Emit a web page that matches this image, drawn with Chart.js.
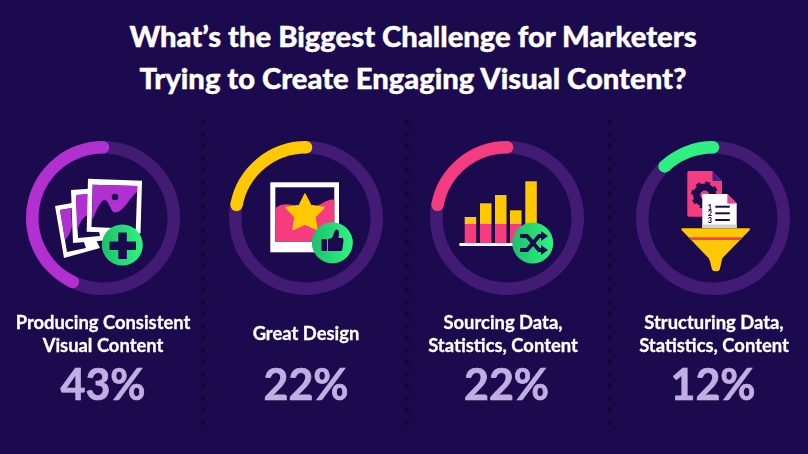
<!DOCTYPE html>
<html>
<head>
<meta charset="utf-8">
<title>Biggest Challenge for Marketers</title>
<script src="https://cdn.jsdelivr.net/npm/chart.js@4"></script>
<style>
  html, body { margin: 0; padding: 0; background: #1c0a4e; }
  #page { position: relative; width: 808px; height: 454px; overflow: hidden; background: #1c0a4e; font-family: Lato, sans-serif; }
  h1 { position: absolute; left: 0; top: 15px; width: 826px; margin: 0; text-align: center; color: #fff; font-size: 29.2px; line-height: 42px; font-weight: 900; -webkit-text-stroke: 0.4px #fff; }
  .ring { position: absolute; top: 138px; width: 160px; height: 160px; }
  .label { position: absolute; width: 200px; text-align: center; color: #fff; font-size: 18.4px; line-height: 23px; font-weight: 700; white-space: nowrap; -webkit-text-stroke: 0.3px #fff; }
  .pct { position: absolute; top: 358px; width: 200px; text-align: center; color: #c3aee3; font-size: 43px; line-height: 52px; font-weight: 700; -webkit-text-stroke: 0.7px #c3aee3; }
  .sep { position: absolute; top: 120px; width: 4px; height: 312px; background: repeating-linear-gradient(to bottom, #130739 0 5px, transparent 5px 12px); }
  svg { position: absolute; left: 0; top: 0; }
</style>
</head>
<body>
<div id="page">
  <h1>What’s the Biggest Challenge for Marketers<br>Trying to Create Engaging Visual Content?</h1>
  <div class="sep" style="left:201px"></div>
  <div class="sep" style="left:405px"></div>
  <div class="sep" style="left:608px"></div>

  <svg id="icons" width="808" height="454" viewBox="0 0 808 454">
    <defs>
      <linearGradient id="badge" x1="0" x2="1" y1="0" y2="0">
        <stop offset="0" stop-color="#1fbf6b"/>
        <stop offset="1" stop-color="#2ef581"/>
      </linearGradient>
    </defs>

    <!-- photos -->
    <polygon points="55,206 78,202 100,248 64,258" fill="#fff"/>
    <polygon points="60,210 72,208 86,248 67,252" fill="#1c0a4e"/>
    <path d="M60,210 L71,208 L72,226 Q70,235 65,240 Z" fill="#b22fd0"/>
    <polygon points="71,190 100,188 110,240 73,243" fill="#fff"/>
    <polygon points="76,195 92,194 100,236 78,238" fill="#1c0a4e"/>
    <path d="M76,195 L90,194 L89,214 Q80,218 77,232 Z" fill="#b22fd0"/>
    <polygon points="88,178.7 142,180.7 140.500,233.500 86.700,231.700" fill="#fff"/>
    <polygon points="92.700,184.700 137.300,186 135.800,229 91.500,227" fill="#1c0a4e"/>
    <path d="M92.700,184.700 L137.300,186 L137,192 C130,197 124,212 115,212.500 C110,212 109,199 104,200 C99,202 95,214 92,220 Z" fill="#b22fd0"/>
    <circle cx="115" cy="197" r="3.300" fill="#1c0a4e"/>
    <circle cx="122.300" cy="245" r="20.500" fill="url(#badge)"/>
    <rect x="118.300" y="232.500" width="8.500" height="26.500" fill="#1c0a4e"/>
    <rect x="109.500" y="241.500" width="26.500" height="8.500" fill="#1c0a4e"/>

    <!-- framed star -->
    <rect x="270.300" y="182.300" width="68.700" height="70" fill="#fff"/>
    <rect x="275.300" y="187.300" width="59" height="54.700" fill="#1c0a4e"/>
    <path d="M275.300,208 C282,203 290,204 296,206 L315,206 C320,206 326,199 334.300,199.500 L334.300,242 L275.300,242 Z" fill="#f43c7e"/>
    <path d="M305,194 L310.800,205.500 L324,207.500 L315,217 L317,229.500 L305,224 L293,229.500 L295,217 L286,207.500 L299.200,205.500 Z" fill="#ffc800" stroke="#ffc800" stroke-width="1.500" stroke-linejoin="round"/>
    <circle cx="332.300" cy="242.700" r="20.500" fill="url(#badge)"/>
    <rect x="321.500" y="239" width="5.500" height="12" rx="1" fill="#1c0a4e"/>
    <path d="M328,239 L332,238 C334,234 334,231 336,229.500 C339,229 339.500,232 338.500,238 L342,238 C343.500,238 343.800,240 343.300,242 L342.300,249.500 C342,250.700 341,251 340,251 L328,251 Z" fill="#1c0a4e"/>

    <!-- small bar icon -->
    <rect x="464.700" y="217" width="11.500" height="7" fill="#ffc800"/>
    <rect x="480" y="203.300" width="11.500" height="20.700" fill="#ffc800"/>
    <rect x="495" y="195" width="11.500" height="29" fill="#ffc800"/>
    <rect x="510" y="210.300" width="11.500" height="13.700" fill="#ffc800"/>
    <rect x="525.300" y="181.300" width="11.500" height="42.700" fill="#ffc800"/>
    <rect x="464.700" y="224" width="11.500" height="19" fill="#f43c7e"/>
    <rect x="480" y="224" width="11.500" height="19" fill="#f43c7e"/>
    <rect x="495" y="224" width="11.500" height="19" fill="#f43c7e"/>
    <rect x="510" y="224" width="11.500" height="19" fill="#f43c7e"/>
    <rect x="459.300" y="243" width="62" height="3" rx="1" fill="#fff"/>
    <circle cx="532.700" cy="243" r="20.500" fill="url(#badge)"/>
    <g fill="none" stroke="#1c0a4e" stroke-width="4">
      <path d="M520,236 L527,236 L539,250 L543,250"/>
      <path d="M520,250 L527,250 L539,236 L543,236"/>
    </g>
    <polygon points="541,231 548,236 541,241" fill="#1c0a4e"/>
    <polygon points="541,245 548,250 541,255" fill="#1c0a4e"/>

    <!-- documents and funnel -->
    <path d="M689.300,171 L712.500,171 L722,181 L722,214.700 Q722,216.700 720,216.700 L689.300,216.700 Q687.300,216.700 687.300,214.700 L687.300,173 Q687.300,171 689.300,171 Z" fill="#f43c7e"/>
    <polygon points="712.500,171 722,181 712.500,181" fill="#4a1f80"/>
    <circle cx="704.700" cy="195" r="8" fill="none" stroke="#1c0a4e" stroke-width="7"/>
    <circle cx="704.700" cy="195" r="11.800" fill="none" stroke="#1c0a4e" stroke-width="3.500" stroke-dasharray="4.600 4.700"/>
    <path d="M702.300,194 L727.300,194 L736.700,203.500 L736.700,228 L702.300,228 Z" fill="#fff"/>
    <polygon points="727.300,194 736.700,203.500 727.300,203.500" fill="#f43c7e"/>
    <rect x="702.300" y="224.500" width="34.400" height="3.500" fill="#c8d3e0"/>
    <rect x="715.300" y="205.700" width="14.500" height="2" fill="#1c0a4e"/>
    <rect x="715.300" y="212.300" width="14.500" height="2" fill="#1c0a4e"/>
    <rect x="715.300" y="219" width="14.500" height="2" fill="#1c0a4e"/>
    <g fill="#1c0a4e" font-family="Lato" font-weight="900" font-size="7.500" text-anchor="middle">
      <text x="710" y="209.500">1</text>
      <text x="710" y="216">2</text>
      <text x="710" y="222.500">3</text>
    </g>
    <path d="M682.300,228.300 L749,228.300 Q750.500,228.300 749.800,230 L722.500,258 C721,262 721,266 719.500,270 Q718.500,271.200 716,271.200 Q713,271.200 712.300,270 C710.500,266 711,262 708.500,258 L681.500,230 Q680.800,228.300 682.300,228.300 Z" fill="#ffc800"/>
    <polygon points="688.800,237.300 742.700,237.300 740,240 691.500,240" fill="#f43c7e"/>
  </svg>
</div>

<script>
const categories = [
  ['Producing Consistent', 'Visual Content'],
  ['Great Design'],
  ['Sourcing Data,', 'Statistics, Content'],
  ['Structuring Data,', 'Statistics, Content'],
];
const shares = [43, 22, 22, 12];
const arcColors = ['#b22fd0', '#ffc800', '#f43c7e', '#2ef080'];
const trackColor = '#421c74';

// layout of the four columns
const centerX = [103, 306, 506.5, 713];
const labelX = [103, 306, 503, 714];
const labelTop = [311, 322, 311, 311];

// flat arcs in chart.js, so round the ends of the coloured one by hand
const roundCaps = {
  id: 'roundCaps',
  afterDatasetsDraw(chart) {
    const arc = chart.getDatasetMeta(0).data[1];
    const p = arc.getProps(['x', 'y', 'startAngle', 'endAngle', 'innerRadius', 'outerRadius']);
    const mid = (p.innerRadius + p.outerRadius) / 2;
    const r = (p.outerRadius - p.innerRadius) / 2;
    const ctx = chart.ctx;
    ctx.save();
    ctx.fillStyle = arc.options.backgroundColor;
    [p.startAngle, p.endAngle].forEach((a) => {
      ctx.beginPath();
      ctx.arc(p.x + Math.cos(a) * mid, p.y + Math.sin(a) * mid, r, 0, Math.PI * 2);
      ctx.fill();
    });
    ctx.restore();
  },
};

const page = document.getElementById('page');
const icons = document.getElementById('icons');

categories.forEach((lines, i) => {
  const box = document.createElement('div');
  box.className = 'ring';
  box.style.left = (centerX[i] - 80) + 'px';
  const canvas = document.createElement('canvas');
  canvas.width = 160;
  canvas.height = 160;
  box.appendChild(canvas);
  page.insertBefore(box, icons);

  new Chart(canvas, {
    type: 'doughnut',
    data: {
      labels: ['Other', lines.join(' ')],
      datasets: [{
        // clockwise from 12 o'clock, so the share ends back at the top
        data: [100 - shares[i], shares[i]],
        backgroundColor: [trackColor, arcColors[i]],
        borderWidth: 0,
      }],
    },
    options: {
      responsive: false,
      animation: false,
      radius: 77,
      cutout: 67,
      layout: { padding: 0 },
      plugins: { legend: { display: false }, tooltip: { enabled: false } },
    },
    plugins: [roundCaps],
  });

  const label = document.createElement('div');
  label.className = 'label';
  label.style.left = (labelX[i] - 100) + 'px';
  label.style.top = labelTop[i] + 'px';
  label.innerHTML = lines.join('<br>');
  page.appendChild(label);

  const pct = document.createElement('div');
  pct.className = 'pct';
  pct.style.left = (centerX[i] - 100) + 'px';
  pct.textContent = shares[i] + '%';
  page.appendChild(pct);
});
</script>
</body>
</html>
